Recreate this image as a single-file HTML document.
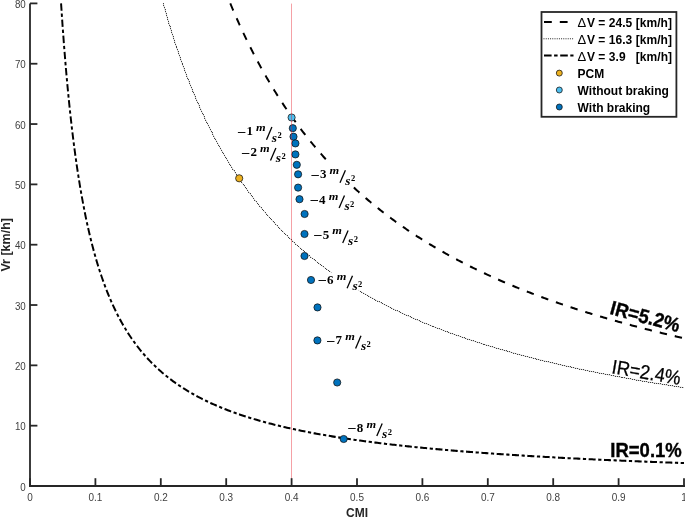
<!DOCTYPE html>
<html><head><meta charset="utf-8"><style>
html,body{margin:0;padding:0;background:#fff;width:685px;height:518px;overflow:hidden}
svg{display:block}
text{filter:grayscale(1)}
.tk{font-family:"Liberation Sans",sans-serif;font-size:10.5px;fill:#404040}
.al{font-family:"Liberation Sans",sans-serif;font-size:12px;font-weight:bold;fill:#262626}
.lg{font-family:"Liberation Sans",sans-serif;font-size:12px;font-weight:bold;fill:#000}
.lgd{font-family:"Liberation Sans",sans-serif;font-size:13px;fill:#000}
.ac{font-family:"Liberation Serif",serif;font-size:13px;font-weight:bold;fill:#000}
.ai{font-family:"Liberation Serif",serif;font-size:11px;font-weight:bold;font-style:italic;fill:#000}
.as{font-family:"Liberation Serif",serif;font-size:12px;font-weight:bold;font-style:italic;fill:#000}
.sup{font-family:"Liberation Serif",serif;font-size:8.5px;font-weight:bold;fill:#000}
.irb{font-family:"Liberation Sans",sans-serif;font-size:18.5px;font-weight:bold;fill:#000;stroke:#000;stroke-width:0.35px}
.irn{font-family:"Liberation Sans",sans-serif;font-size:18px;fill:#000;stroke:#000;stroke-width:0.25px}
</style></head><body>
<svg width="685" height="518" viewBox="0 0 685 518">
<g transform="scale(1,1.055)"><polyline points="230.29,3.223 231.42,5.799 232.56,8.346 233.69,10.865 234.82,13.356 235.96,15.819 237.09,18.256 238.23,20.666 239.36,23.049 240.50,25.407 241.63,27.740 242.76,30.048 243.90,32.332 245.03,34.591 246.17,36.827 247.30,39.039 248.44,41.229 249.57,43.395 250.70,45.540 251.84,47.663 252.97,49.763 254.11,51.843 255.24,53.902 256.38,55.940 257.51,57.958 258.64,59.956 259.78,61.934 260.91,63.892 262.05,65.832 263.18,67.752 264.32,69.654 265.45,71.538 266.58,73.404 267.72,75.252 268.85,77.082 269.99,78.895 271.12,80.691 272.26,82.470 273.39,84.232 274.52,85.978 275.66,87.708 276.79,89.423 277.93,91.121 279.06,92.804 280.20,94.472 281.33,96.124 282.46,97.762 283.60,99.385 284.73,100.994 285.87,102.589 287.00,104.169 288.14,105.735 289.27,107.288 290.40,108.827 291.54,110.353 292.67,111.866 293.81,113.366 294.94,114.853 296.08,116.327 297.21,117.788 298.34,119.238 299.48,120.675 300.61,122.100 301.75,123.513 302.88,124.915 304.02,126.304 305.15,127.683 306.28,129.050 307.42,130.406 308.55,131.751 309.69,133.084 310.82,134.408 311.96,135.720 313.09,137.022 314.22,138.314 315.36,139.595 316.49,140.866 317.63,142.127 318.76,143.379 319.90,144.620 321.03,145.852 322.16,147.074 323.30,148.287 324.43,149.490 325.57,150.684 326.70,151.869 327.84,153.045 328.97,154.212 330.10,155.371 331.24,156.520 332.37,157.661 333.51,158.794 334.64,159.918 335.78,161.033 336.91,162.141 338.04,163.240 339.18,164.331 340.31,165.414 341.45,166.489 342.58,167.557 343.72,168.617 344.85,169.669 345.98,170.713 347.12,171.750 348.25,172.780 349.39,173.803 350.52,174.818 351.66,175.826 352.79,176.827 353.92,177.821 355.06,178.808 356.19,179.788 357.33,180.761 358.46,181.728 359.60,182.687 360.73,183.641 361.86,184.588 363.00,185.528 364.13,186.462 365.27,187.390 366.40,188.311 367.54,189.226 368.67,190.136 369.80,191.039 370.94,191.936 372.07,192.827 373.21,193.712 374.34,194.591 375.48,195.465 376.61,196.333 377.74,197.195 378.88,198.051 380.01,198.902 381.15,199.748 382.28,200.588 383.42,201.423 384.55,202.252 385.68,203.076 386.82,203.895 387.95,204.709 389.09,205.517 390.22,206.321 391.36,207.119 392.49,207.912 393.62,208.701 394.76,209.484 395.89,210.263 397.03,211.037 398.16,211.806 399.30,212.570 400.43,213.330 401.56,214.085 402.70,214.836 403.83,215.581 404.97,216.323 406.10,217.060 407.24,217.792 408.37,218.520 409.50,219.244 410.64,219.963 411.77,220.679 412.91,221.389 414.04,222.096 415.18,222.799 416.31,223.497 417.44,224.191 418.58,224.882 419.71,225.568 420.85,226.250 421.98,226.929 423.12,227.603 424.25,228.274 425.38,228.940 426.52,229.603 427.65,230.262 428.79,230.917 429.92,231.569 431.06,232.217 432.19,232.861 433.32,233.502 434.46,234.139 435.59,234.773 436.73,235.402 437.86,236.029 439.00,236.652 440.13,237.271 441.26,237.888 442.40,238.500 443.53,239.110 444.67,239.716 445.80,240.318 446.94,240.918 448.07,241.514 449.20,242.107 450.34,242.697 451.47,243.283 452.61,243.867 453.74,244.447 454.88,245.024 456.01,245.599 457.14,246.170 458.28,246.738 459.41,247.303 460.55,247.865 461.68,248.424 462.82,248.980 463.95,249.534 465.08,250.084 466.22,250.632 467.35,251.176 468.49,251.718 469.62,252.257 470.76,252.794 471.89,253.327 473.02,253.858 474.16,254.386 475.29,254.912 476.43,255.435 477.56,255.955 478.70,256.472 479.83,256.987 480.96,257.499 482.10,258.009 483.23,258.516 484.37,259.021 485.50,259.523 486.64,260.023 487.77,260.520 488.90,261.014 490.04,261.507 491.17,261.997 492.31,262.484 493.44,262.969 494.58,263.452 495.71,263.932 496.84,264.410 497.98,264.886 499.11,265.359 500.25,265.830 501.38,266.299 502.52,266.766 503.65,267.230 504.78,267.692 505.92,268.152 507.05,268.610 508.19,269.065 509.32,269.519 510.45,269.970 511.59,270.419 512.72,270.866 513.86,271.311 514.99,271.754 516.13,272.195 517.26,272.633 518.39,273.070 519.53,273.505 520.66,273.937 521.80,274.368 522.93,274.797 524.07,275.224 525.20,275.648 526.33,276.071 527.47,276.492 528.60,276.911 529.74,277.328 530.87,277.743 532.01,278.157 533.14,278.568 534.27,278.978 535.41,279.385 536.54,279.791 537.68,280.195 538.81,280.598 539.95,280.998 541.08,281.397 542.21,281.794 543.35,282.189 544.48,282.583 545.62,282.974 546.75,283.364 547.89,283.753 549.02,284.139 550.15,284.524 551.29,284.908 552.42,285.289 553.56,285.669 554.69,286.047 555.83,286.424 556.96,286.799 558.09,287.173 559.23,287.544 560.36,287.915 561.50,288.283 562.63,288.650 563.77,289.016 564.90,289.380 566.03,289.742 567.17,290.103 568.30,290.463 569.44,290.821 570.57,291.177 571.71,291.532 572.84,291.885 573.97,292.237 575.11,292.588 576.24,292.937 577.38,293.284 578.51,293.630 579.65,293.975 580.78,294.318 581.91,294.660 583.05,295.001 584.18,295.340 585.32,295.677 586.45,296.014 587.59,296.349 588.72,296.682 589.85,297.014 590.99,297.345 592.12,297.675 593.26,298.003 594.39,298.330 595.53,298.656 596.66,298.980 597.79,299.303 598.93,299.625 600.06,299.945 601.20,300.264 602.33,300.582 603.47,300.899 604.60,301.214 605.73,301.528 606.87,301.841 608.00,302.153 609.14,302.463 610.27,302.773 611.41,303.081 612.54,303.387 613.67,303.693 614.81,303.998 615.94,304.301 617.08,304.603 618.21,304.904 619.35,305.204 620.48,305.502 621.61,305.800 622.75,306.096 623.88,306.391 625.02,306.685 626.15,306.978 627.29,307.270 628.42,307.561 629.55,307.851 630.69,308.139 631.82,308.427 632.96,308.713 634.09,308.998 635.23,309.283 636.36,309.566 637.49,309.848 638.63,310.129 639.76,310.409 640.90,310.688 642.03,310.966 643.17,311.243 644.30,311.519 645.43,311.794 646.57,312.067 647.70,312.340 648.84,312.612 649.97,312.883 651.11,313.153 652.24,313.422 653.37,313.690 654.51,313.957 655.64,314.223 656.78,314.488 657.91,314.752 659.05,315.015 660.18,315.277 661.31,315.538 662.45,315.799 663.58,316.058 664.72,316.316 665.85,316.574 666.99,316.830 668.12,317.086 669.25,317.341 670.39,317.595 671.52,317.848 672.66,318.100 673.79,318.351 674.93,318.601 676.06,318.851 677.19,319.099 678.33,319.347 679.46,319.594 680.60,319.840 681.73,320.085 682.87,320.329 684.00,320.572" fill="none" stroke="#000" stroke-width="1.95" stroke-dasharray="7.4 8.0"/></g>
<polyline points="163.25,3.400 164.55,8.069 165.86,12.649 167.16,17.142 168.46,21.551 169.76,25.877 171.06,30.123 172.37,34.292 173.67,38.385 174.97,42.405 176.27,46.353 177.57,50.232 178.87,54.042 180.18,57.787 181.48,61.467 182.78,65.085 184.08,68.641 185.38,72.138 186.69,75.577 187.99,78.959 189.29,82.285 190.59,85.558 191.89,88.778 193.20,91.947 194.50,95.066 195.80,98.135 197.10,101.157 198.40,104.132 199.70,107.062 201.01,109.947 202.31,112.788 203.61,115.586 204.91,118.343 206.21,121.060 207.52,123.736 208.82,126.374 210.12,128.973 211.42,131.535 212.72,134.060 214.03,136.550 215.33,139.005 216.63,141.425 217.93,143.812 219.23,146.167 220.53,148.489 221.84,150.779 223.14,153.039 224.44,155.268 225.74,157.468 227.04,159.638 228.35,161.780 229.65,163.894 230.95,165.981 232.25,168.041 233.55,170.075 234.86,172.083 236.16,174.065 237.46,176.022 238.76,177.955 240.06,179.865 241.36,181.750 242.67,183.613 243.97,185.452 245.27,187.270 246.57,189.066 247.87,190.840 249.18,192.593 250.48,194.326 251.78,196.038 253.08,197.730 254.38,199.403 255.69,201.056 256.99,202.690 258.29,204.306 259.59,205.903 260.89,207.482 262.19,209.044 263.50,210.588 264.80,212.115 266.10,213.625 267.40,215.119 268.70,216.597 270.01,218.058 271.31,219.503 272.61,220.933 273.91,222.348 275.21,223.748 276.52,225.133 277.82,226.503 279.12,227.859 280.42,229.202 281.72,230.530 283.02,231.844 284.33,233.145 285.63,234.433 286.93,235.708 288.23,236.969 289.53,238.219 290.84,239.455 292.14,240.680 293.44,241.892 294.74,243.092 296.04,244.281 297.34,245.458 298.65,246.624 299.95,247.778 301.25,248.922 302.55,250.054 303.85,251.176 305.16,252.287 306.46,253.387 307.76,254.478 309.06,255.558 310.36,256.628 311.67,257.688 312.97,258.738 314.27,259.779 315.57,260.810 316.87,261.832 318.17,262.845 319.48,263.849 320.78,264.843 322.08,265.829 323.38,266.806 324.68,267.774 325.99,268.734 327.29,269.686 328.59,270.629 329.89,271.564 331.19,272.491 332.50,273.409 333.80,274.321 335.10,275.224 336.40,276.119 337.70,277.007 339.00,277.888 340.31,278.761 341.61,279.627 342.91,280.485 344.21,281.337 345.51,282.181 346.82,283.019 348.12,283.850 349.42,284.674 350.72,285.491 352.02,286.301 353.33,287.105 354.63,287.903 355.93,288.694 357.23,289.479 358.53,290.258 359.83,291.031 361.14,291.797 362.44,292.558 363.74,293.312 365.04,294.061 366.34,294.804 367.65,295.541 368.95,296.273 370.25,296.999 371.55,297.719 372.85,298.434 374.16,299.143 375.46,299.848 376.76,300.547 378.06,301.240 379.36,301.929 380.66,302.612 381.97,303.290 383.27,303.964 384.57,304.632 385.87,305.296 387.17,305.954 388.48,306.608 389.78,307.257 391.08,307.902 392.38,308.542 393.68,309.177 394.99,309.807 396.29,310.434 397.59,311.055 398.89,311.673 400.19,312.286 401.49,312.895 402.80,313.499 404.10,314.100 405.40,314.696 406.70,315.288 408.00,315.876 409.31,316.460 410.61,317.039 411.91,317.615 413.21,318.187 414.51,318.756 415.82,319.320 417.12,319.881 418.42,320.437 419.72,320.990 421.02,321.540 422.32,322.085 423.63,322.628 424.93,323.166 426.23,323.701 427.53,324.233 428.83,324.761 430.14,325.285 431.44,325.807 432.74,326.324 434.04,326.839 435.34,327.350 436.64,327.858 437.95,328.363 439.25,328.864 440.55,329.362 441.85,329.858 443.15,330.350 444.46,330.838 445.76,331.324 447.06,331.807 448.36,332.287 449.66,332.764 450.97,333.238 452.27,333.709 453.57,334.177 454.87,334.642 456.17,335.104 457.47,335.564 458.78,336.021 460.08,336.475 461.38,336.926 462.68,337.374 463.98,337.820 465.29,338.263 466.59,338.704 467.89,339.142 469.19,339.577 470.49,340.010 471.80,340.440 473.10,340.868 474.40,341.293 475.70,341.716 477.00,342.136 478.30,342.554 479.61,342.969 480.91,343.382 482.21,343.793 483.51,344.201 484.81,344.607 486.12,345.010 487.42,345.412 488.72,345.811 490.02,346.207 491.32,346.602 492.63,346.994 493.93,347.384 495.23,347.772 496.53,348.158 497.83,348.541 499.13,348.923 500.44,349.302 501.74,349.679 503.04,350.055 504.34,350.428 505.64,350.799 506.95,351.168 508.25,351.535 509.55,351.900 510.85,352.263 512.15,352.624 513.46,352.983 514.76,353.340 516.06,353.696 517.36,354.049 518.66,354.401 519.96,354.750 521.27,355.098 522.57,355.444 523.87,355.788 525.17,356.131 526.47,356.471 527.78,356.810 529.08,357.147 530.38,357.482 531.68,357.816 532.98,358.148 534.29,358.478 535.59,358.806 536.89,359.133 538.19,359.458 539.49,359.781 540.79,360.103 542.10,360.423 543.40,360.741 544.70,361.058 546.00,361.373 547.30,361.687 548.61,361.999 549.91,362.309 551.21,362.618 552.51,362.926 553.81,363.232 555.11,363.536 556.42,363.839 557.72,364.140 559.02,364.440 560.32,364.739 561.62,365.036 562.93,365.331 564.23,365.625 565.53,365.918 566.83,366.209 568.13,366.499 569.44,366.787 570.74,367.074 572.04,367.360 573.34,367.644 574.64,367.927 575.94,368.209 577.25,368.489 578.55,368.768 579.85,369.045 581.15,369.321 582.45,369.596 583.76,369.870 585.06,370.142 586.36,370.414 587.66,370.683 588.96,370.952 590.27,371.219 591.57,371.485 592.87,371.750 594.17,372.014 595.47,372.276 596.77,372.538 598.08,372.798 599.38,373.056 600.68,373.314 601.98,373.571 603.28,373.826 604.59,374.080 605.89,374.333 607.19,374.585 608.49,374.836 609.79,375.085 611.10,375.334 612.40,375.581 613.70,375.827 615.00,376.073 616.30,376.317 617.60,376.560 618.91,376.802 620.21,377.042 621.51,377.282 622.81,377.521 624.11,377.759 625.42,377.995 626.72,378.231 628.02,378.466 629.32,378.699 630.62,378.932 631.93,379.163 633.23,379.394 634.53,379.624 635.83,379.852 637.13,380.080 638.43,380.306 639.74,380.532 641.04,380.757 642.34,380.981 643.64,381.203 644.94,381.425 646.25,381.646 647.55,381.866 648.85,382.085 650.15,382.303 651.45,382.521 652.76,382.737 654.06,382.952 655.36,383.167 656.66,383.380 657.96,383.593 659.26,383.805 660.57,384.016 661.87,384.226 663.17,384.435 664.47,384.644 665.77,384.851 667.08,385.058 668.38,385.264 669.68,385.469 670.98,385.673 672.28,385.876 673.59,386.079 674.89,386.281 676.19,386.482 677.49,386.682 678.79,386.881 680.09,387.080 681.40,387.277 682.70,387.474 684.00,387.670" fill="none" stroke="#000" stroke-opacity="0.22" stroke-width="1"/>
<path d="M163 3h1v1h-1zM163 5h1v1h-1zM164 7h1v1h-1zM165 9h1v1h-1zM165 11h1v1h-1zM166 13h1v1h-1zM166 15h1v1h-1zM167 17h1v1h-1zM167 19h1v1h-1zM168 21h1v1h-1zM168 23h1v1h-1zM169 25h1v1h-1zM170 26h1v1h-1zM170 28h1v1h-1zM171 30h1v1h-1zM171 32h1v1h-1zM172 34h1v1h-1zM173 36h1v1h-1zM173 38h1v1h-1zM174 40h1v1h-1zM174 42h1v1h-1zM175 44h1v1h-1zM176 46h1v1h-1zM176 47h1v1h-1zM177 49h1v1h-1zM178 51h1v1h-1zM178 53h1v1h-1zM179 55h1v1h-1zM180 57h1v1h-1zM180 59h1v1h-1zM181 61h1v1h-1zM182 63h1v1h-1zM182 64h1v1h-1zM183 66h1v1h-1zM184 68h1v1h-1zM184 70h1v1h-1zM185 72h1v1h-1zM186 74h1v1h-1zM186 76h1v1h-1zM187 78h1v1h-1zM188 79h1v1h-1zM189 81h1v1h-1zM189 83h1v1h-1zM190 85h1v1h-1zM191 87h1v1h-1zM192 89h1v1h-1zM192 91h1v1h-1zM193 92h1v1h-1zM194 94h1v1h-1zM195 96h1v1h-1zM195 98h1v1h-1zM196 100h1v1h-1zM197 102h1v1h-1zM198 103h1v1h-1zM199 105h1v1h-1zM199 107h1v1h-1zM200 109h1v1h-1zM201 111h1v1h-1zM202 113h1v1h-1zM203 114h1v1h-1zM204 116h1v1h-1zM204 118h1v1h-1zM205 120h1v1h-1zM206 122h1v1h-1zM207 123h1v1h-1zM208 125h1v1h-1zM209 127h1v1h-1zM210 129h1v1h-1zM211 131h1v1h-1zM212 132h1v1h-1zM212 134h1v1h-1zM213 136h1v1h-1zM214 138h1v1h-1zM215 139h1v1h-1zM216 141h1v1h-1zM217 143h1v1h-1zM218 145h1v1h-1zM219 146h1v1h-1zM220 148h1v1h-1zM221 150h1v1h-1zM222 152h1v1h-1zM223 153h1v1h-1zM224 155h1v1h-1zM225 157h1v1h-1zM226 158h1v1h-1zM227 160h1v1h-1zM228 162h1v1h-1zM229 164h1v1h-1zM230 165h1v1h-1zM231 167h1v1h-1zM232 169h1v1h-1zM234 170h1v1h-1zM235 172h1v1h-1zM236 174h1v1h-1zM237 175h1v1h-1zM238 177h1v1h-1zM239 179h1v1h-1zM240 180h1v1h-1zM241 182h1v1h-1zM243 184h1v1h-1zM244 185h1v1h-1zM245 187h1v1h-1zM246 188h1v1h-1zM247 190h1v1h-1zM248 192h1v1h-1zM250 193h1v1h-1zM251 195h1v1h-1zM252 196h1v1h-1zM253 198h1v1h-1zM254 200h1v1h-1zM256 201h1v1h-1zM257 203h1v1h-1zM258 204h1v1h-1zM259 206h1v1h-1zM261 207h1v1h-1zM262 209h1v1h-1zM263 210h1v1h-1zM265 212h1v1h-1zM266 214h1v1h-1zM267 215h1v1h-1zM269 217h1v1h-1zM270 218h1v1h-1zM271 219h1v1h-1zM273 221h1v1h-1zM274 222h1v1h-1zM275 224h1v1h-1zM277 225h1v1h-1zM278 227h1v1h-1zM279 228h1v1h-1zM281 230h1v1h-1zM282 231h1v1h-1zM284 233h1v1h-1zM285 234h1v1h-1zM287 235h1v1h-1zM288 237h1v1h-1zM289 238h1v1h-1zM291 239h1v1h-1zM292 241h1v1h-1zM294 242h1v1h-1zM295 244h1v1h-1zM297 245h1v1h-1zM298 246h1v1h-1zM300 248h1v1h-1zM301 249h1v1h-1zM303 250h1v1h-1zM304 251h1v1h-1zM306 253h1v1h-1zM307 254h1v1h-1zM309 255h1v1h-1zM310 257h1v1h-1zM312 258h1v1h-1zM314 259h1v1h-1zM315 260h1v1h-1zM317 262h1v1h-1zM318 263h1v1h-1zM320 264h1v1h-1zM321 265h1v1h-1zM323 266h1v1h-1zM325 268h1v1h-1zM326 269h1v1h-1zM328 270h1v1h-1zM329 271h1v1h-1zM331 272h1v1h-1zM333 273h1v1h-1zM334 275h1v1h-1zM336 276h1v1h-1zM338 277h1v1h-1zM339 278h1v1h-1zM341 279h1v1h-1zM343 280h1v1h-1zM344 281h1v1h-1zM346 282h1v1h-1zM348 283h1v1h-1zM349 285h1v1h-1zM351 286h1v1h-1zM353 287h1v1h-1zM355 288h1v1h-1zM356 289h1v1h-1zM358 290h1v1h-1zM360 291h1v1h-1zM361 292h1v1h-1zM363 293h1v1h-1zM365 294h1v1h-1zM367 295h1v1h-1zM368 296h1v1h-1zM370 297h1v1h-1zM372 298h1v1h-1zM374 299h1v1h-1zM375 300h1v1h-1zM377 301h1v1h-1zM379 301h1v1h-1zM381 302h1v1h-1zM382 303h1v1h-1zM384 304h1v1h-1zM386 305h1v1h-1zM388 306h1v1h-1zM390 307h1v1h-1zM391 308h1v1h-1zM393 309h1v1h-1zM395 310h1v1h-1zM397 310h1v1h-1zM399 311h1v1h-1zM400 312h1v1h-1zM402 313h1v1h-1zM404 314h1v1h-1zM406 315h1v1h-1zM408 315h1v1h-1zM410 316h1v1h-1zM411 317h1v1h-1zM413 318h1v1h-1zM415 319h1v1h-1zM417 319h1v1h-1zM419 320h1v1h-1zM420 321h1v1h-1zM422 322h1v1h-1zM424 323h1v1h-1zM426 323h1v1h-1zM428 324h1v1h-1zM430 325h1v1h-1zM432 326h1v1h-1zM433 326h1v1h-1zM435 327h1v1h-1zM437 328h1v1h-1zM439 328h1v1h-1zM441 329h1v1h-1zM443 330h1v1h-1zM445 331h1v1h-1zM447 331h1v1h-1zM448 332h1v1h-1zM450 333h1v1h-1zM452 333h1v1h-1zM454 334h1v1h-1zM456 335h1v1h-1zM458 335h1v1h-1zM460 336h1v1h-1zM462 337h1v1h-1zM464 337h1v1h-1zM465 338h1v1h-1zM467 339h1v1h-1zM469 339h1v1h-1zM471 340h1v1h-1zM473 340h1v1h-1zM475 341h1v1h-1zM477 342h1v1h-1zM479 342h1v1h-1zM481 343h1v1h-1zM483 344h1v1h-1zM484 344h1v1h-1zM486 345h1v1h-1zM488 345h1v1h-1zM490 346h1v1h-1zM492 346h1v1h-1zM494 347h1v1h-1zM496 348h1v1h-1zM498 348h1v1h-1zM500 349h1v1h-1zM502 349h1v1h-1zM504 350h1v1h-1zM506 350h1v1h-1zM507 351h1v1h-1zM509 351h1v1h-1zM511 352h1v1h-1zM513 353h1v1h-1zM515 353h1v1h-1zM517 354h1v1h-1zM519 354h1v1h-1zM521 355h1v1h-1zM523 355h1v1h-1zM525 356h1v1h-1zM527 356h1v1h-1zM529 357h1v1h-1zM531 357h1v1h-1zM533 358h1v1h-1zM535 358h1v1h-1zM536 359h1v1h-1zM538 359h1v1h-1zM540 360h1v1h-1zM542 360h1v1h-1zM544 361h1v1h-1zM546 361h1v1h-1zM548 361h1v1h-1zM550 362h1v1h-1zM552 362h1v1h-1zM554 363h1v1h-1zM556 363h1v1h-1zM558 364h1v1h-1zM560 364h1v1h-1zM562 365h1v1h-1zM564 365h1v1h-1zM566 366h1v1h-1zM568 366h1v1h-1zM570 366h1v1h-1zM571 367h1v1h-1zM573 367h1v1h-1zM575 368h1v1h-1zM577 368h1v1h-1zM579 369h1v1h-1zM581 369h1v1h-1zM583 369h1v1h-1zM585 370h1v1h-1zM587 370h1v1h-1zM589 371h1v1h-1zM591 371h1v1h-1zM593 371h1v1h-1zM595 372h1v1h-1zM597 372h1v1h-1zM599 373h1v1h-1zM601 373h1v1h-1zM603 373h1v1h-1zM605 374h1v1h-1zM607 374h1v1h-1zM609 374h1v1h-1zM611 375h1v1h-1zM613 375h1v1h-1zM615 376h1v1h-1zM617 376h1v1h-1zM619 376h1v1h-1zM621 377h1v1h-1zM622 377h1v1h-1zM624 377h1v1h-1zM626 378h1v1h-1zM628 378h1v1h-1zM630 378h1v1h-1zM632 379h1v1h-1zM634 379h1v1h-1zM636 380h1v1h-1zM638 380h1v1h-1zM640 380h1v1h-1zM642 381h1v1h-1zM644 381h1v1h-1zM646 381h1v1h-1zM648 382h1v1h-1zM650 382h1v1h-1zM652 382h1v1h-1zM654 383h1v1h-1zM656 383h1v1h-1zM658 383h1v1h-1zM660 383h1v1h-1zM662 384h1v1h-1zM664 384h1v1h-1zM666 384h1v1h-1zM668 385h1v1h-1zM670 385h1v1h-1zM672 385h1v1h-1zM674 386h1v1h-1zM676 386h1v1h-1zM678 386h1v1h-1zM680 387h1v1h-1zM682 387h1v1h-1z" fill="#000" fill-opacity="0.7"/>
<g transform="scale(1,1.055)"><polyline points="61.06,3.223 62.62,25.060 64.18,44.908 65.74,63.025 67.29,79.630 68.85,94.903 70.41,109.000 71.97,122.050 73.52,134.166 75.08,145.445 76.64,155.970 78.20,165.816 79.75,175.045 81.31,183.714 82.87,191.872 84.43,199.563 85.98,206.827 87.54,213.697 89.10,220.205 90.65,226.379 92.21,232.244 93.77,237.822 95.33,243.134 96.88,248.199 98.44,253.034 100.00,257.653 101.56,262.072 103.11,266.302 104.67,270.355 106.23,274.243 107.79,277.976 109.34,281.561 110.90,285.009 112.46,288.327 114.01,291.521 115.57,294.600 117.13,297.568 118.69,300.432 120.24,303.197 121.80,305.868 123.36,308.450 124.92,310.948 126.47,313.365 128.03,315.705 129.59,317.971 131.15,320.168 132.70,322.299 134.26,324.366 135.82,326.372 137.37,328.319 138.93,330.211 140.49,332.050 142.05,333.838 143.60,335.576 145.16,337.268 146.72,338.914 148.28,340.517 149.83,342.079 151.39,343.600 152.95,345.083 154.51,346.529 156.06,347.939 157.62,349.314 159.18,350.657 160.73,351.967 162.29,353.247 163.85,354.496 165.41,355.717 166.96,356.911 168.52,358.077 170.08,359.218 171.64,360.333 173.19,361.424 174.75,362.492 176.31,363.537 177.87,364.560 179.42,365.561 180.98,366.542 182.54,367.503 184.09,368.445 185.65,369.368 187.21,370.272 188.77,371.159 190.32,372.028 191.88,372.881 193.44,373.717 195.00,374.538 196.55,375.343 198.11,376.134 199.67,376.909 201.23,377.671 202.78,378.419 204.34,379.154 205.90,379.876 207.45,380.585 209.01,381.281 210.57,381.966 212.13,382.639 213.68,383.300 215.24,383.951 216.80,384.590 218.36,385.219 219.91,385.838 221.47,386.446 223.03,387.045 224.59,387.634 226.14,388.214 227.70,388.785 229.26,389.347 230.81,389.900 232.37,390.444 233.93,390.981 235.49,391.509 237.04,392.029 238.60,392.541 240.16,393.046 241.72,393.543 243.27,394.034 244.83,394.517 246.39,394.993 247.95,395.462 249.50,395.924 251.06,396.381 252.62,396.830 254.17,397.274 255.73,397.711 257.29,398.142 258.85,398.568 260.40,398.988 261.96,399.402 263.52,399.810 265.08,400.213 266.63,400.611 268.19,401.004 269.75,401.391 271.31,401.774 272.86,402.151 274.42,402.524 275.98,402.892 277.53,403.256 279.09,403.615 280.65,403.969 282.21,404.319 283.76,404.665 285.32,405.007 286.88,405.344 288.44,405.677 289.99,406.007 291.55,406.332 293.11,406.654 294.67,406.972 296.22,407.286 297.78,407.596 299.34,407.903 300.89,408.206 302.45,408.506 304.01,408.803 305.57,409.096 307.12,409.385 308.68,409.672 310.24,409.955 311.80,410.236 313.35,410.513 314.91,410.787 316.47,411.058 318.03,411.326 319.58,411.592 321.14,411.854 322.70,412.114 324.26,412.371 325.81,412.625 327.37,412.877 328.93,413.125 330.48,413.372 332.04,413.616 333.60,413.857 335.16,414.096 336.71,414.332 338.27,414.566 339.83,414.798 341.39,415.028 342.94,415.255 344.50,415.479 346.06,415.702 347.62,415.923 349.17,416.141 350.73,416.357 352.29,416.571 353.84,416.783 355.40,416.993 356.96,417.201 358.52,417.407 360.07,417.611 361.63,417.813 363.19,418.014 364.75,418.212 366.30,418.409 367.86,418.604 369.42,418.797 370.98,418.988 372.53,419.177 374.09,419.365 375.65,419.551 377.20,419.735 378.76,419.918 380.32,420.099 381.88,420.279 383.43,420.457 384.99,420.633 386.55,420.808 388.11,420.981 389.66,421.153 391.22,421.324 392.78,421.492 394.34,421.660 395.89,421.826 397.45,421.990 399.01,422.154 400.56,422.316 402.12,422.476 403.68,422.635 405.24,422.793 406.79,422.950 408.35,423.105 409.91,423.259 411.47,423.411 413.02,423.563 414.58,423.713 416.14,423.862 417.70,424.010 419.25,424.157 420.81,424.302 422.37,424.446 423.92,424.590 425.48,424.732 427.04,424.873 428.60,425.012 430.15,425.151 431.71,425.289 433.27,425.425 434.83,425.561 436.38,425.696 437.94,425.829 439.50,425.962 441.06,426.093 442.61,426.223 444.17,426.353 445.73,426.481 447.28,426.609 448.84,426.736 450.40,426.861 451.96,426.986 453.51,427.110 455.07,427.233 456.63,427.355 458.19,427.476 459.74,427.596 461.30,427.716 462.86,427.834 464.42,427.952 465.97,428.069 467.53,428.185 469.09,428.300 470.64,428.414 472.20,428.528 473.76,428.641 475.32,428.753 476.87,428.864 478.43,428.974 479.99,429.084 481.55,429.193 483.10,429.301 484.66,429.409 486.22,429.515 487.78,429.621 489.33,429.726 490.89,429.831 492.45,429.935 494.00,430.038 495.56,430.140 497.12,430.242 498.68,430.343 500.23,430.444 501.79,430.543 503.35,430.643 504.91,430.741 506.46,430.839 508.02,430.936 509.58,431.032 511.14,431.128 512.69,431.224 514.25,431.318 515.81,431.412 517.36,431.506 518.92,431.599 520.48,431.691 522.04,431.783 523.59,431.874 525.15,431.964 526.71,432.054 528.27,432.144 529.82,432.233 531.38,432.321 532.94,432.409 534.50,432.496 536.05,432.583 537.61,432.669 539.17,432.754 540.72,432.840 542.28,432.924 543.84,433.008 545.40,433.092 546.95,433.175 548.51,433.257 550.07,433.339 551.63,433.421 553.18,433.502 554.74,433.583 556.30,433.663 557.86,433.743 559.41,433.822 560.97,433.900 562.53,433.979 564.09,434.057 565.64,434.134 567.20,434.211 568.76,434.287 570.31,434.363 571.87,434.439 573.43,434.514 574.99,434.589 576.54,434.663 578.10,434.737 579.66,434.810 581.22,434.883 582.77,434.956 584.33,435.028 585.89,435.100 587.45,435.171 589.00,435.243 590.56,435.313 592.12,435.383 593.67,435.453 595.23,435.523 596.79,435.592 598.35,435.660 599.90,435.729 601.46,435.797 603.02,435.864 604.58,435.932 606.13,435.998 607.69,436.065 609.25,436.131 610.81,436.197 612.36,436.262 613.92,436.327 615.48,436.392 617.03,436.456 618.59,436.520 620.15,436.584 621.71,436.648 623.26,436.711 624.82,436.773 626.38,436.836 627.94,436.898 629.49,436.959 631.05,437.021 632.61,437.082 634.17,437.143 635.72,437.203 637.28,437.263 638.84,437.323 640.39,437.383 641.95,437.442 643.51,437.501 645.07,437.560 646.62,437.618 648.18,437.676 649.74,437.734 651.30,437.791 652.85,437.849 654.41,437.905 655.97,437.962 657.53,438.018 659.08,438.074 660.64,438.130 662.20,438.186 663.75,438.241 665.31,438.296 666.87,438.351 668.43,438.405 669.98,438.459 671.54,438.513 673.10,438.567 674.66,438.620 676.21,438.673 677.77,438.726 679.33,438.779 680.89,438.831 682.44,438.883 684.00,438.935" fill="none" stroke="#000" stroke-width="1.95" stroke-dasharray="7.0 2.6 3.2 2.55"/></g>
<circle cx="291.6" cy="117.5" r="3.6" fill="#4DBEEE" stroke="#111" stroke-width="0.75"/>
<circle cx="292.8" cy="128.2" r="3.6" fill="#0072BD" stroke="#111" stroke-width="0.75"/>
<circle cx="293.5" cy="136.7" r="3.6" fill="#0072BD" stroke="#111" stroke-width="0.75"/>
<circle cx="295.4" cy="143.4" r="3.6" fill="#0072BD" stroke="#111" stroke-width="0.75"/>
<circle cx="295.4" cy="154.4" r="3.6" fill="#0072BD" stroke="#111" stroke-width="0.75"/>
<circle cx="296.8" cy="164.8" r="3.6" fill="#0072BD" stroke="#111" stroke-width="0.75"/>
<circle cx="298.1" cy="174.3" r="3.6" fill="#0072BD" stroke="#111" stroke-width="0.75"/>
<circle cx="298.1" cy="187.6" r="3.6" fill="#0072BD" stroke="#111" stroke-width="0.75"/>
<circle cx="299.5" cy="199.2" r="3.6" fill="#0072BD" stroke="#111" stroke-width="0.75"/>
<circle cx="304.6" cy="214.0" r="3.6" fill="#0072BD" stroke="#111" stroke-width="0.75"/>
<circle cx="304.5" cy="234.0" r="3.6" fill="#0072BD" stroke="#111" stroke-width="0.75"/>
<circle cx="304.5" cy="256.0" r="3.6" fill="#0072BD" stroke="#111" stroke-width="0.75"/>
<circle cx="311.0" cy="280.0" r="3.6" fill="#0072BD" stroke="#111" stroke-width="0.75"/>
<circle cx="317.5" cy="307.4" r="3.6" fill="#0072BD" stroke="#111" stroke-width="0.75"/>
<circle cx="317.4" cy="340.4" r="3.6" fill="#0072BD" stroke="#111" stroke-width="0.75"/>
<circle cx="337.2" cy="382.5" r="3.6" fill="#0072BD" stroke="#111" stroke-width="0.75"/>
<circle cx="343.7" cy="439.0" r="3.6" fill="#0072BD" stroke="#111" stroke-width="0.75"/>
<circle cx="239.2" cy="178.3" r="3.6" fill="#EDB120" stroke="#111" stroke-width="0.75"/>
<line x1="291.5" y1="3.6" x2="291.5" y2="486" stroke="#e8202a" stroke-opacity="0.42" stroke-width="1"/>
<line x1="30" y1="3.4" x2="30" y2="487.0" stroke="#262626" stroke-width="1.8"/>
<line x1="29.1" y1="486.0" x2="685.0" y2="486.0" stroke="#262626" stroke-width="1.8"/>
<line x1="30.00" y1="486.0" x2="30.00" y2="478.2" stroke="#262626" stroke-width="1.8"/>
<text transform="translate(30.00,501) scale(0.95,1)" text-anchor="middle" class="tk">0</text>
<line x1="95.40" y1="486.0" x2="95.40" y2="478.2" stroke="#262626" stroke-width="1.8"/>
<text transform="translate(95.40,501) scale(0.95,1)" text-anchor="middle" class="tk">0.1</text>
<line x1="160.80" y1="486.0" x2="160.80" y2="478.2" stroke="#262626" stroke-width="1.8"/>
<text transform="translate(160.80,501) scale(0.95,1)" text-anchor="middle" class="tk">0.2</text>
<line x1="226.20" y1="486.0" x2="226.20" y2="478.2" stroke="#262626" stroke-width="1.8"/>
<text transform="translate(226.20,501) scale(0.95,1)" text-anchor="middle" class="tk">0.3</text>
<line x1="291.60" y1="486.0" x2="291.60" y2="478.2" stroke="#262626" stroke-width="1.8"/>
<text transform="translate(291.60,501) scale(0.95,1)" text-anchor="middle" class="tk">0.4</text>
<line x1="357.00" y1="486.0" x2="357.00" y2="478.2" stroke="#262626" stroke-width="1.8"/>
<text transform="translate(357.00,501) scale(0.95,1)" text-anchor="middle" class="tk">0.5</text>
<line x1="422.40" y1="486.0" x2="422.40" y2="478.2" stroke="#262626" stroke-width="1.8"/>
<text transform="translate(422.40,501) scale(0.95,1)" text-anchor="middle" class="tk">0.6</text>
<line x1="487.80" y1="486.0" x2="487.80" y2="478.2" stroke="#262626" stroke-width="1.8"/>
<text transform="translate(487.80,501) scale(0.95,1)" text-anchor="middle" class="tk">0.7</text>
<line x1="553.20" y1="486.0" x2="553.20" y2="478.2" stroke="#262626" stroke-width="1.8"/>
<text transform="translate(553.20,501) scale(0.95,1)" text-anchor="middle" class="tk">0.8</text>
<line x1="618.60" y1="486.0" x2="618.60" y2="478.2" stroke="#262626" stroke-width="1.8"/>
<text transform="translate(618.60,501) scale(0.95,1)" text-anchor="middle" class="tk">0.9</text>
<line x1="684.00" y1="486.0" x2="684.00" y2="478.2" stroke="#262626" stroke-width="1.8"/>
<text transform="translate(684.00,501) scale(0.95,1)" text-anchor="middle" class="tk">1</text>
<line x1="30" y1="486.00" x2="37.4" y2="486.00" stroke="#262626" stroke-width="1.8"/>
<text transform="translate(25.8,490.75) scale(0.93,1)" text-anchor="end" class="tk">0</text>
<line x1="30" y1="425.68" x2="37.4" y2="425.68" stroke="#262626" stroke-width="1.8"/>
<text transform="translate(25.8,430.43) scale(0.93,1)" text-anchor="end" class="tk">10</text>
<line x1="30" y1="365.35" x2="37.4" y2="365.35" stroke="#262626" stroke-width="1.8"/>
<text transform="translate(25.8,370.10) scale(0.93,1)" text-anchor="end" class="tk">20</text>
<line x1="30" y1="305.02" x2="37.4" y2="305.02" stroke="#262626" stroke-width="1.8"/>
<text transform="translate(25.8,309.77) scale(0.93,1)" text-anchor="end" class="tk">30</text>
<line x1="30" y1="244.70" x2="37.4" y2="244.70" stroke="#262626" stroke-width="1.8"/>
<text transform="translate(25.8,249.45) scale(0.93,1)" text-anchor="end" class="tk">40</text>
<line x1="30" y1="184.38" x2="37.4" y2="184.38" stroke="#262626" stroke-width="1.8"/>
<text transform="translate(25.8,189.12) scale(0.93,1)" text-anchor="end" class="tk">50</text>
<line x1="30" y1="124.05" x2="37.4" y2="124.05" stroke="#262626" stroke-width="1.8"/>
<text transform="translate(25.8,128.80) scale(0.93,1)" text-anchor="end" class="tk">60</text>
<line x1="30" y1="63.73" x2="37.4" y2="63.73" stroke="#262626" stroke-width="1.8"/>
<text transform="translate(25.8,68.48) scale(0.93,1)" text-anchor="end" class="tk">70</text>
<line x1="30" y1="3.40" x2="37.4" y2="3.40" stroke="#262626" stroke-width="1.8"/>
<text transform="translate(25.8,8.15) scale(0.93,1)" text-anchor="end" class="tk">80</text>
<text x="357.1" y="517" text-anchor="middle" class="al">CMI</text>
<text transform="translate(10.2,244.8) rotate(-90)" text-anchor="middle" class="al" style="font-size:12.5px">Vr [km/h]</text>
<rect x="541.5" y="12" width="134.9" height="104.8" fill="#fff" stroke="#262626" stroke-width="1.8"/>
<line x1="544" y1="22" x2="573.5" y2="22" stroke="#000" stroke-width="2" stroke-dasharray="7.8 8"/>
<line x1="544" y1="38.7" x2="574" y2="38.7" stroke="#000" stroke-width="1.15" stroke-linecap="round" stroke-dasharray="0 2.2"/>
<line x1="544" y1="55.5" x2="573.5" y2="55.5" stroke="#000" stroke-width="2" stroke-dasharray="7.6 2.5 3.5 2.6"/>
<circle cx="559.3" cy="73.1" r="3.0" fill="#EDB120" stroke="#111" stroke-width="0.75"/>
<circle cx="559.3" cy="90" r="3.0" fill="#4DBEEE" stroke="#111" stroke-width="0.75"/>
<circle cx="559.3" cy="107" r="3.0" fill="#0072BD" stroke="#111" stroke-width="0.75"/>
<text x="577.4" y="26.9" class="lgd">Δ</text>
<text x="586.9" y="26.9" class="lg" style="letter-spacing:0.05px">V = 24.5 [km/h]</text>
<text x="577.4" y="43.9" class="lgd">Δ</text>
<text x="586.9" y="43.9" class="lg" style="letter-spacing:0.05px">V = 16.3 [km/h]</text>
<text x="577.4" y="61.0" class="lgd">Δ</text>
<text x="586.9" y="61.0" class="lg" style="letter-spacing:0.05px">V = 3.9&#160;&#160; [km/h]</text>
<text x="577.6" y="77.7" class="lg">PCM</text>
<text x="577.6" y="94.6" class="lg">Without braking</text>
<text x="577.6" y="111.6" class="lg">With braking</text>
<rect x="235.9" y="123.69999999999999" width="48.99999999999997" height="18.5" fill="#fff"/><line x1="237.9" y1="132.5" x2="245.4" y2="132.5" stroke="#111" stroke-width="1"/><text x="246.5" y="135.2" class="ac">1</text><text transform="translate(256.1,131.1) scale(1.13,1)" class="ai">m</text><line x1="266.5" y1="139.7" x2="271.9" y2="127.1" stroke="#000" stroke-width="1.3"/><text transform="translate(271.8,141.5) scale(1.12,1)" class="as">s</text><text x="277.5" y="138.29999999999998" class="sup">2</text>
<rect x="239.9" y="144.5" width="48.99999999999997" height="18.5" fill="#fff"/><line x1="241.9" y1="153.5" x2="249.4" y2="153.5" stroke="#111" stroke-width="1"/><text x="250.5" y="156.0" class="ac">2</text><text transform="translate(260.1,151.9) scale(1.13,1)" class="ai">m</text><line x1="270.5" y1="160.5" x2="275.9" y2="147.9" stroke="#000" stroke-width="1.3"/><text transform="translate(275.8,162.3) scale(1.12,1)" class="as">s</text><text x="281.5" y="159.1" class="sup">2</text>
<rect x="308.5" y="192.1" width="49.0" height="18.5" fill="#fff"/><line x1="310.5" y1="200.5" x2="318.0" y2="200.5" stroke="#111" stroke-width="1"/><text x="319.1" y="203.6" class="ac">4</text><text transform="translate(328.7,199.5) scale(1.13,1)" class="ai">m</text><line x1="339.1" y1="208.1" x2="344.5" y2="195.5" stroke="#000" stroke-width="1.3"/><text transform="translate(344.4,209.9) scale(1.12,1)" class="as">s</text><text x="350.1" y="206.7" class="sup">2</text>
<rect x="312.1" y="227.0" width="49.0" height="18.5" fill="#fff"/><line x1="314.1" y1="235.5" x2="321.6" y2="235.5" stroke="#111" stroke-width="1"/><text x="322.70000000000005" y="238.5" class="ac">5</text><text transform="translate(332.3,234.4) scale(1.13,1)" class="ai">m</text><line x1="342.70000000000005" y1="243.0" x2="348.1" y2="230.4" stroke="#000" stroke-width="1.3"/><text transform="translate(348.0,244.8) scale(1.12,1)" class="as">s</text><text x="353.70000000000005" y="241.6" class="sup">2</text>
<rect x="316.5" y="272.3" width="49.0" height="18.5" fill="#fff"/><line x1="318.5" y1="280.5" x2="326.0" y2="280.5" stroke="#111" stroke-width="1"/><text x="327.1" y="283.8" class="ac">6</text><text transform="translate(336.7,279.7) scale(1.13,1)" class="ai">m</text><line x1="347.1" y1="288.3" x2="352.5" y2="275.7" stroke="#000" stroke-width="1.3"/><text transform="translate(352.4,290.1) scale(1.12,1)" class="as">s</text><text x="358.1" y="286.90000000000003" class="sup">2</text>
<rect x="325.0" y="332.4" width="49.0" height="18.5" fill="#fff"/><line x1="327.0" y1="341.5" x2="334.5" y2="341.5" stroke="#111" stroke-width="1"/><text x="335.6" y="343.9" class="ac">7</text><text transform="translate(345.2,339.79999999999995) scale(1.13,1)" class="ai">m</text><line x1="355.6" y1="348.4" x2="361.0" y2="335.79999999999995" stroke="#000" stroke-width="1.3"/><text transform="translate(360.9,350.2) scale(1.12,1)" class="as">s</text><text x="366.6" y="347.0" class="sup">2</text>
<rect x="309.4" y="163.3" width="49.0" height="22.0" fill="#fff"/><line x1="311.4" y1="175.5" x2="318.9" y2="175.5" stroke="#111" stroke-width="1"/><text x="320.0" y="178.3" class="ac">3</text><text transform="translate(329.59999999999997,174.20000000000002) scale(1.13,1)" class="ai">m</text><line x1="340.0" y1="182.8" x2="345.4" y2="170.20000000000002" stroke="#000" stroke-width="1.3"/><text transform="translate(345.29999999999995,184.60000000000002) scale(1.12,1)" class="as">s</text><text x="351.0" y="181.4" class="sup">2</text>
<rect x="347.6" y="420.1" width="47.599999999999966" height="17.0" fill="#fff"/><line x1="348.2" y1="428.5" x2="355.7" y2="428.5" stroke="#111" stroke-width="1"/><text x="356.8" y="431.6" class="ac">8</text><text transform="translate(366.4,427.5) scale(1.13,1)" class="ai">m</text><line x1="376.8" y1="436.1" x2="382.2" y2="423.5" stroke="#000" stroke-width="1.3"/><text transform="translate(382.09999999999997,437.90000000000003) scale(1.12,1)" class="as">s</text><text x="387.8" y="434.70000000000005" class="sup">2</text>
<text transform="translate(609,313.8) rotate(15) scale(1,1.07)" class="irb">IR=5.2%</text>
<text transform="translate(611,373.3) rotate(9.5) scale(1,1.1)" class="irn">IR=2.4%</text>
<text transform="translate(610.3,456.7) scale(1,1.08)" class="irb">IR=0.1%</text>
</svg>
</body></html>
